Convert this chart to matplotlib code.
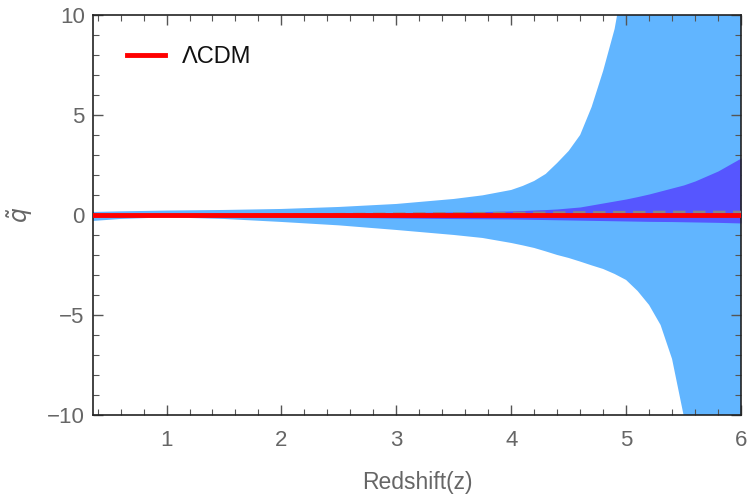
import matplotlib
matplotlib.use("Agg")
import matplotlib.pyplot as plt
from matplotlib.ticker import MultipleLocator

z = [0.36, 0.6, 1.0, 1.5, 2.0, 2.5, 3.0, 3.5, 3.75, 4.0, 4.1, 4.2, 4.3, 4.4, 4.5,
     4.6, 4.7, 4.8, 4.9, 5.0, 5.1, 5.2, 5.3, 5.4, 5.5, 5.6, 5.8, 6.0]
outer_upper = [0.15, 0.18, 0.22, 0.25, 0.3, 0.4, 0.55, 0.8, 0.98, 1.25, 1.45, 1.7,
               2.05, 2.6, 3.2, 4.0, 5.4, 7.2, 9.3, 12.5, 15, 17, 20, 25, 30, 35, 45, 60]
outer_lower = [-0.3, -0.2, -0.12, -0.2, -0.35, -0.52, -0.75, -1.0, -1.15, -1.4,
               -1.52, -1.65, -1.82, -2.0, -2.15, -2.33, -2.52, -2.7, -2.95, -3.25,
               -3.8, -4.5, -5.5, -7.2, -10, -14, -22, -35]
inner_upper = [0.05, 0.05, 0.06, 0.07, 0.08, 0.1, 0.12, 0.15, 0.17, 0.2, 0.22, 0.25,
               0.27, 0.3, 0.35, 0.4, 0.5, 0.6, 0.7, 0.8, 0.92, 1.05, 1.2, 1.35, 1.5,
               1.7, 2.2, 2.85]
inner_lower = [-0.1, -0.08, -0.06, -0.08, -0.1, -0.12, -0.15, -0.18, -0.19, -0.2,
               -0.21, -0.22, -0.23, -0.24, -0.25, -0.26, -0.27, -0.28, -0.29, -0.3,
               -0.31, -0.32, -0.325, -0.33, -0.34, -0.35, -0.37, -0.4]
mean_q = [0.0, 0.0, 0.0, 0.0, 0.02, 0.04, 0.06, 0.08, 0.09, 0.1, 0.1, 0.11, 0.11,
          0.12, 0.12, 0.13, 0.13, 0.13, 0.14, 0.14, 0.14, 0.14, 0.15, 0.15, 0.15,
          0.15, 0.15, 0.15]
lcdm_q = [0.0] * len(z)

x_ticks = [1, 2, 3, 4, 5, 6]
y_ticks = [-10, -5, 0, 5, 10]
y_tick_labels = ["\u221210", "\u22125", "0", "5", "10"]

plt.rcParams['font.family'] = ['Liberation Sans', 'DejaVu Sans']
fig = plt.figure(figsize=(7.5, 4.98), dpi=100)
ax = fig.add_axes([0.124, 0.1667, 0.864, 0.8033])

ax.fill_between(z, outer_lower, outer_upper, color='#61B5FF', linewidth=0, zorder=1)
ax.fill_between(z, inner_lower, inner_upper, color='#5656FF', linewidth=0, zorder=2)
ax.plot(z, mean_q, color='#888888', linestyle=(0, (5, 3)), linewidth=1.8, zorder=3)
ax.plot(z, lcdm_q, color='#FF0000', linewidth=3.5, zorder=4, label='\u039bCDM')

ax.set_xlim(0.36, 6.0)
ax.set_ylim(-10, 10)
ax.set_xticks(x_ticks)
ax.set_yticks(y_ticks)
ax.set_yticklabels(y_tick_labels)
ax.xaxis.set_minor_locator(MultipleLocator(0.2))
ax.yaxis.set_minor_locator(MultipleLocator(1))
ax.tick_params(which='both', direction='in', top=True, right=True, color='#555555',
               labelcolor='#666666', labelsize=16)
ax.tick_params(which='major', length=7, width=1)
ax.tick_params(which='minor', length=4, width=0.8)
ax.tick_params(axis='x', which='major', pad=11)
ax.tick_params(axis='y', which='major', pad=6)
for s in ax.spines.values():
    s.set_color('#222222')
    s.set_linewidth(1.2)

ax.set_xlabel('Redshift(z)', fontsize=16.5, color='#666666', labelpad=14)
ax.set_ylabel(r'$\tilde{q}$', fontsize=17, color='#666666', va='center')
ax.yaxis.set_label_coords(-0.113, 0.5)

leg = ax.legend(loc='upper left', frameon=False, fontsize=17, handlelength=1.6,
                bbox_to_anchor=(0.02, 0.975), handletextpad=0.7)
leg.get_texts()[0].set_color('#111111')

fig.savefig('out.png', dpi=100)
